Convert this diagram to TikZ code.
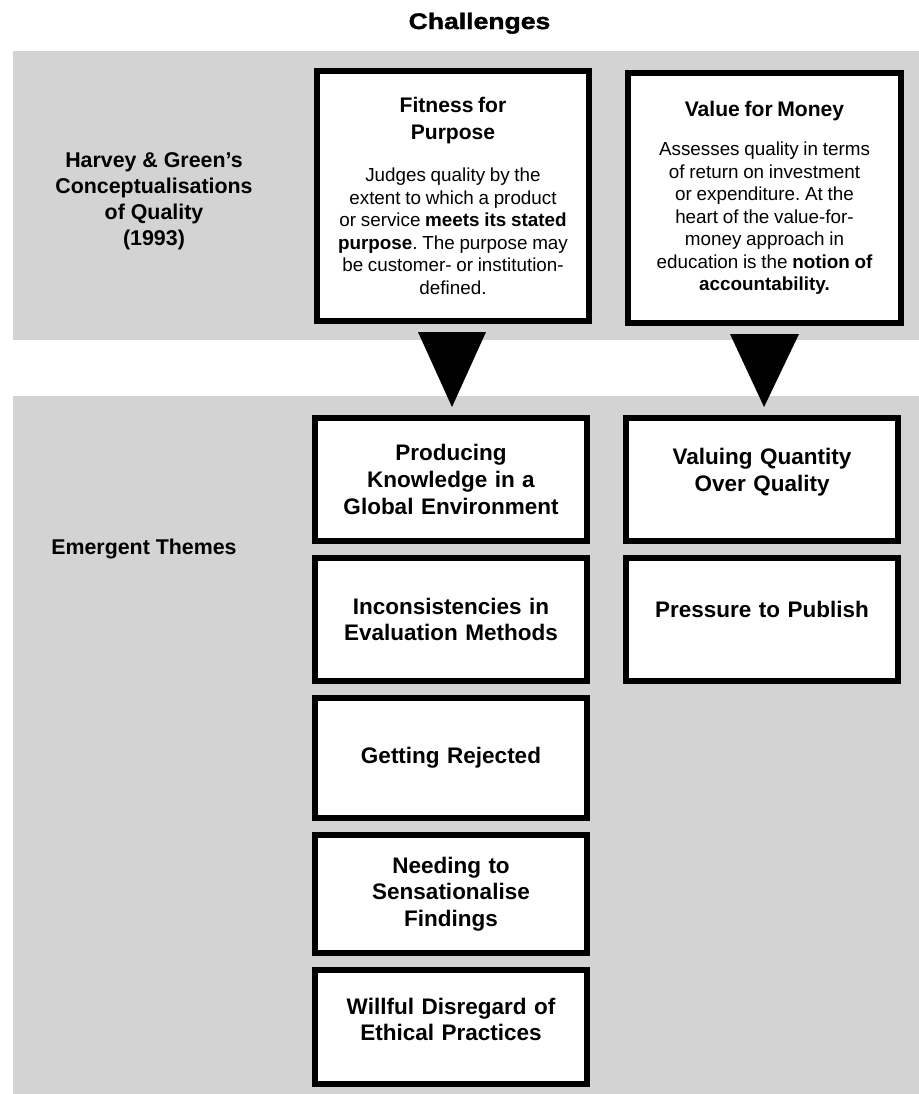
\documentclass[tikz,border=0pt]{standalone}
\usepackage{fontspec}
\setmainfont{Liberation Sans}
\newfontfamily\headfont[FakeBold=1.5]{Liberation Sans Bold}
\usepackage{graphicx}
\usepackage{xcolor}
\usetikzlibrary{positioning,calc}
\definecolor{bandgray}{HTML}{D3D3D3}
\frenchspacing

\begin{document}
\begin{tikzpicture}[x=0.025cm,y=-0.025cm,node distance=0.275cm,
    band/.style={fill=bandgray,draw=none},
    topbox/.style={draw=black,line width=4.25pt,fill=white,minimum width=6.8cm,
        minimum height=6.25cm,inner sep=0pt,text width=6.5cm,align=center},
    themebox/.style={draw=black,line width=4.25pt,fill=white,minimum width=6.8cm,
        inner sep=0pt,text width=6.5cm,align=center,
        font=\fontsize{16}{19}\selectfont\bfseries},
    sidelabel/.style={align=center,font=\fontsize{15.2}{18.4}\selectfont\bfseries},
    pointer/.style={fill=black}]
        \useasboundingbox (0,0) rectangle (919,1094);
        % Bands
        \fill[band] (13,51) rectangle (919,340);
        \fill[band] (13,396) rectangle (919,1094);
        % Title and row labels
        \node[anchor=base] (title) at (479.5,29)
            {\fontsize{16}{19}\headfont\scalebox{1.18}[1]{Challenges}};
        \node[sidelabel] (hg) at (154,201)
            {Harvey \& Green’s\\Conceptualisations\\of Quality\\(1993)};
        \node[sidelabel,anchor=base] (emerg) at (144,554) {Emergent Themes};
        % Conceptualisations
        \node[topbox] (fit) at (453,196) {%
            {\fontsize{15}{19}\selectfont\bfseries Fitness for\\Purpose\par}
            \vspace{14pt}
            {\fontsize{13.4}{16}\selectfont Judges quality by the\\
            extent to which a product\\
            or service \textbf{meets its stated}\\
            \textbf{purpose}. The purpose may\\
            be customer- or institution-\\
            defined.\par}};
        \node[topbox] (vfm) at (764.5,198) {%
            {\fontsize{15}{19}\selectfont\bfseries Value for Money\par}
            \vspace{11.5pt}
            {\fontsize{13.4}{16}\selectfont Assesses quality in terms\\
            of return on investment\\
            or expenditure. At the\\
            heart of the value-for-\\
            money approach in\\
            education is the \textbf{notion of}\\
            \textbf{accountability.}\par}};
        % Emergent themes, left column
        \node[themebox,minimum height=3.075cm] (prod) at (451,479.5)
            {Producing\\Knowledge in a\\Global Environment};
        \node[themebox,minimum height=3.075cm,below=of prod] (incon)
            {Inconsistencies in\\Evaluation Methods};
        \node[themebox,minimum height=3cm,below=of incon] (reject)
            {Getting Rejected};
        \node[themebox,minimum height=2.95cm,below=of reject] (sensat)
            {Needing to\\Sensationalise\\Findings};
        \node[themebox,minimum height=2.85cm,below=of sensat] (ethic)
            {Willful Disregard of\\Ethical Practices\\[-8pt]\mbox{}};
        % Emergent themes, right column
        \node[themebox,minimum height=3.075cm,right=0.825cm of prod] (quant)
            {Valuing Quantity\\Over Quality\\[-5pt]\mbox{}};
        \node[themebox,minimum height=3.075cm,below=of quant] (publish)
            {Pressure to Publish\\[-5pt]\mbox{}};
        % Pointers
        \fill[pointer] ($(fit.south)+(-35,8)$) -- ($(fit.south)+(33,8)$)
            -- ($(prod.north)+(1,-8)$) -- cycle;
        \fill[pointer] ($(vfm.south)+(-34.5,8)$) -- ($(vfm.south)+(34.5,8)$)
            -- ($(quant.north)+(2,-8)$) -- cycle;
\end{tikzpicture}
\end{document}
